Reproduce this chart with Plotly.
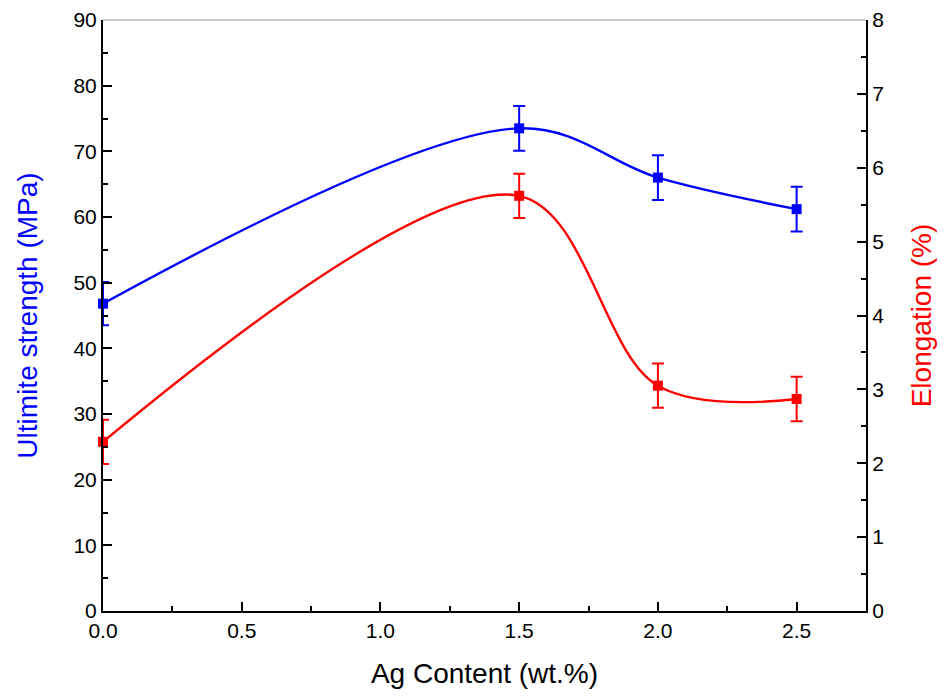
import plotly.graph_objects as go

ag_content = [0.0, 1.5, 2.0, 2.5]
strength = [46.8, 73.5, 66.0, 61.2]
strength_err = [3.3, 3.4, 3.4, 3.4]
elongation = [2.29, 5.62, 3.05, 2.87]
elongation_err = [0.30, 0.30, 0.30, 0.30]

BLUE = "#0000FF"
RED = "#FF0000"
FONT = "Liberation Sans, Arial, sans-serif"

fig = go.Figure()
fig.add_trace(go.Scatter(
    x=ag_content, y=strength, mode="lines+markers",
    line=dict(color=BLUE, width=2.4, shape="spline", smoothing=1.0),
    marker=dict(symbol="square", size=10, color=BLUE),
    error_y=dict(type="data", array=strength_err, color=BLUE, thickness=2, width=6),
    yaxis="y", showlegend=False, cliponaxis=False,
))
fig.add_trace(go.Scatter(
    x=ag_content, y=elongation, mode="lines+markers",
    line=dict(color=RED, width=2.4, shape="spline", smoothing=1.0),
    marker=dict(symbol="square", size=10, color=RED),
    error_y=dict(type="data", array=elongation_err, color=RED, thickness=2, width=6),
    yaxis="y2", showlegend=False, cliponaxis=False,
))

tick_common = dict(ticks="inside", ticklen=9, tickwidth=1.5, tickcolor="black",
                   showline=True, linecolor="black", linewidth=2, automargin=False,
                   showgrid=False, zeroline=False, tickfont=dict(size=21))

fig.update_layout(
    width=945, height=698,
    margin=dict(l=95, r=87, t=12, b=95),
    paper_bgcolor="white", plot_bgcolor="white",
    font=dict(family=FONT, size=21, color="black"),
    xaxis=dict(
        range=[0, 2.75], tickvals=[0, 0.5, 1.0, 1.5, 2.0, 2.5],
        ticktext=["0.0", "0.5", "1.0", "1.5", "2.0", "2.5"],
        minor=dict(dtick=0.25, tick0=0, ticks="inside", ticklen=5, tickwidth=1.5, tickcolor="black"),
        title=dict(text="Ag Content (wt.%)", font=dict(size=28), standoff=22),
        **tick_common,
    ),
    yaxis=dict(
        range=[0, 90], dtick=10, tick0=0,
        minor=dict(dtick=5, tick0=0, ticks="inside", ticklen=5, tickwidth=1.5, tickcolor="black"),
        title=dict(text="Ultimite strength (MPa)", font=dict(color=BLUE, size=28), standoff=28),
        **tick_common,
    ),
    yaxis2=dict(
        range=[0, 8], dtick=1, tick0=0, overlaying="y", side="right",
        minor=dict(dtick=0.5, tick0=0, ticks="inside", ticklen=5, tickwidth=1.5, tickcolor="black"),
        title=dict(text="Elongation (%)", font=dict(color=RED, size=28), standoff=28),
        **tick_common,
    ),
    shapes=[dict(type="line", xref="paper", yref="paper", x0=0, x1=1, y0=1, y1=1,
                 line=dict(color="#999999", width=1))],
)

fig.write_html("out.html")
